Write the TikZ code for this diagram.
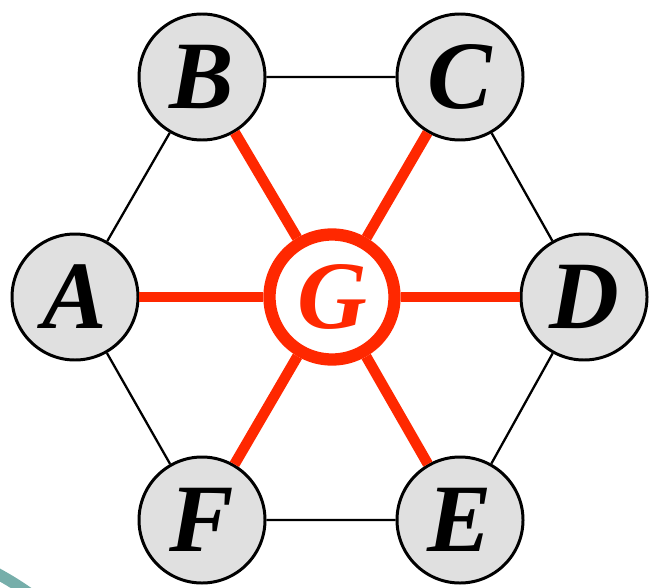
\documentclass[tikz,border=0pt]{standalone}
\usepackage{fontspec}
\setmainfont{Liberation Serif}
\definecolor{spokered}{RGB}{255,40,0}
\definecolor{decoteal}{RGB}{118,174,170}

\begin{document}
\begin{tikzpicture}[
  font=\fontsize{55}{55}\selectfont\bfseries\itshape,
  vertex/.style={circle,draw=black,line width=1.7pt,fill=black!12,minimum size=2.52cm,inner sep=0pt},
  hub/.style={circle,draw=spokered,line width=7pt,fill=white,minimum size=2.5cm,inner sep=0pt,text=spokered},
  rim/.style={black,line width=1.3pt},
  spoke/.style={spokered,line width=6pt}
]
  \clip (0,0) rectangle (13,11.74);

  \draw[decoteal,line width=6.5pt] (-0.4,0.45) .. controls (0.05,0.22) and (0.35,0.05) .. (0.75,-0.25);

  \node[vertex] (a) at (1.50,5.80) {A};
  \node[vertex] (b) at (4.04,10.20) {B};
  \node[vertex] (c) at (9.20,10.20) {C};
  \node[vertex] (d) at (11.68,5.80) {D};
  \node[vertex] (e) at (9.20,1.34) {E};
  \node[vertex] (f) at (4.04,1.34) {F};
  \node[hub] (g) at (6.64,5.80) {G};

  \draw[rim] (a) -- (b) -- (c) -- (d) -- (e) -- (f) -- (a);
  \foreach \v in {a,b,c,d,e,f}
    \draw[spoke] (g) -- (\v);
\end{tikzpicture}
\end{document}
